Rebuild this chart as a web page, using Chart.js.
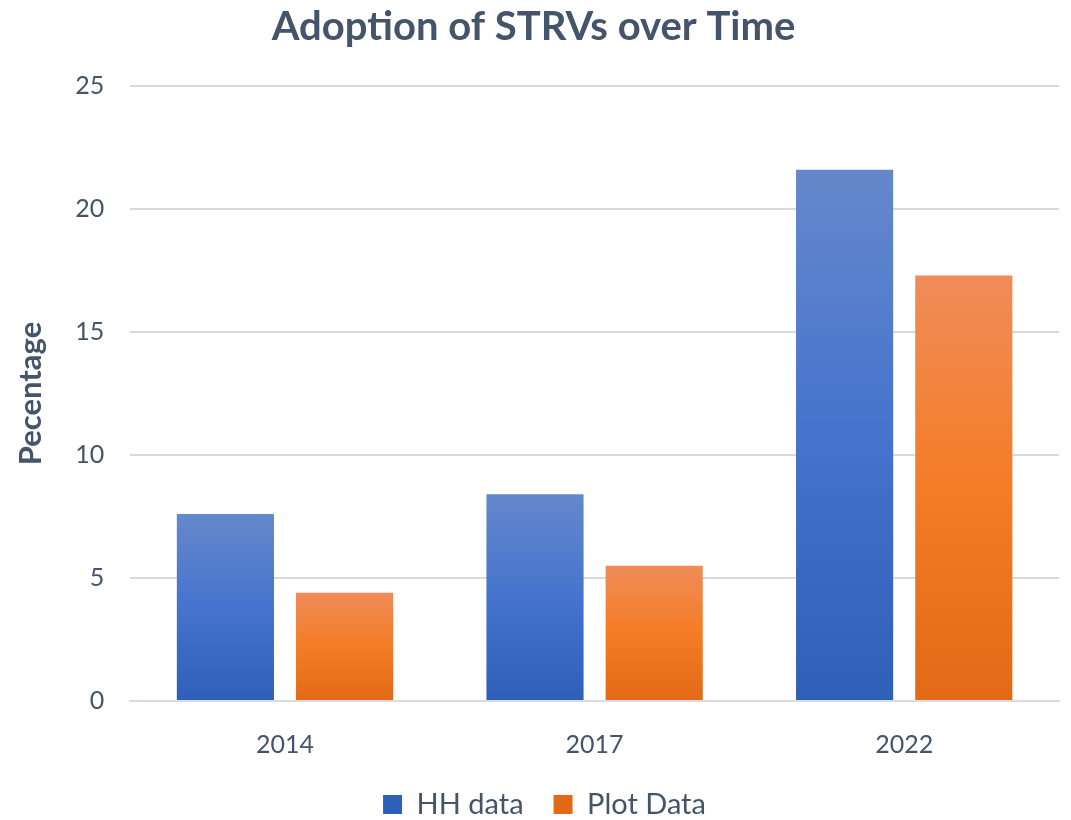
<!DOCTYPE html>
<html>
<head>
<meta charset="utf-8">
<script src="https://cdn.jsdelivr.net/npm/chart.js@4/dist/chart.umd.min.js"></script>
<style>
  html, body { margin: 0; padding: 0; background: #ffffff; }
  #wrap { width: 1071px; height: 820px; }
</style>
</head>
<body>
<div id="wrap"><canvas id="myChart"></canvas></div>
<script>
"use strict";
const years = ['2014', '2017', '2022'];
const hhData = [7.6, 8.4, 21.6];
const plotData = [4.4, 5.5, 17.3];

const textColor = '#44546a';
const fontFamily = "Lato, 'Open Sans', sans-serif";

// vertical gradient for each bar, lighter at the top
function barGradient(topColor, midColor, bottomColor, flat) {
    return (ctx) => {
        const chart = ctx.chart;
        if (!chart.chartArea || ctx.type !== 'data') return flat;
        const y = chart.scales.y;
        const top = y.getPixelForValue(ctx.raw);
        const bottom = y.getPixelForValue(0);
        const g = chart.ctx.createLinearGradient(0, top, 0, bottom);
        g.addColorStop(0, topColor);
        g.addColorStop(0.5, midColor);
        g.addColorStop(1, bottomColor);
        return g;
    };
}

// legend keeps wide gaps between items but takes less height
const legendSqueeze = {
    id: 'legendSqueeze',
    beforeLayout(chart) {
        const legend = chart.legend;
        if (!legend || legend._fitPatched) return;
        const fit = legend.fit;
        legend.fit = function () {
            fit.call(this);
            this.height = 39;
        };
        legend._fitPatched = true;
    },
    afterLayout(chart) {
        const legend = chart.legend;
        legend.top -= 21;
        legend.bottom = chart.height;
        legend.height = legend.bottom - legend.top;
        legend.left += 11;
        legend.right += 11;
    }
};

const ctx = document.getElementById('myChart').getContext('2d');
const myChart = new Chart(ctx, {
    type: 'bar',
    data: {
        labels: years,
        datasets: [{
            label: 'HH data',
            data: hhData,
            backgroundColor: barGradient('#6588cc', '#4573cd', '#2e5fb9', '#4472c4'),
            categoryPercentage: 0.77,
            barPercentage: 0.815
        }, {
            label: 'Plot Data',
            data: plotData,
            backgroundColor: barGradient('#f08c58', '#f47c26', '#e26a16', '#ed7d31'),
            categoryPercentage: 0.77,
            barPercentage: 0.815
        }]
    },
    options: {
        responsive: true,
        maintainAspectRatio: false,
        animation: false,
        layout: { padding: { left: 8, right: 12, top: 0, bottom: 0 } },
        plugins: {
            title: {
                display: true,
                text: 'Adoption of STRVs over Time',
                color: textColor,
                font: { family: fontFamily, size: 40, weight: 'bold' },
                padding: { top: 3, bottom: 35 }
            },
            legend: {
                position: 'bottom',
                labels: {
                    color: textColor,
                    font: { family: fontFamily, size: 29 },
                    boxWidth: 19,
                    boxHeight: 19,
                    padding: 30
                }
            },
            tooltip: { enabled: false }
        },
        scales: {
            x: {
                grid: { display: false },
                border: { color: '#d9dde3', width: 2 },
                ticks: {
                    color: textColor,
                    font: { family: fontFamily, size: 25 },
                    padding: 21
                }
            },
            y: {
                min: 0,
                max: 25,
                ticks: {
                    stepSize: 5,
                    color: textColor,
                    font: { family: fontFamily, size: 25 },
                    padding: 26
                },
                grid: { color: '#d9d9d9', lineWidth: 2, drawTicks: false },
                border: { display: false },
                title: {
                    display: true,
                    text: 'Pecentage',
                    color: textColor,
                    font: { family: fontFamily, size: 31, weight: 'bold' },
                    padding: { bottom: 0 }
                }
            }
        }
    },
    plugins: [legendSqueeze]
});
</script>
</body>
</html>
